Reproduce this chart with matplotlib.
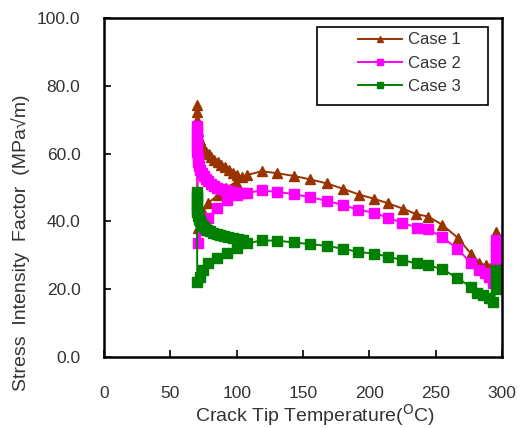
import matplotlib.pyplot as plt
from matplotlib.patches import Rectangle

plt.rcParams['font.family'] = ['Liberation Sans', 'DejaVu Sans']

# Case 1: temperature (C) and stress intensity factor (MPa sqrt(m))
case1_t = [295.5, 295.5, 295.5, 295.5, 295.5,
           291.0, 288.0, 283.0, 276.5, 266.5, 255.0, 244.5, 235.0, 225.0, 214.3,
           203.5, 192.2, 180.4, 168.0, 155.3, 143.2, 130.7, 119.0, 108.0,
           99.5, 92.0, 86.0, 78.5, 74.6, 70.5,
           70.0, 70.0, 70.0, 70.2, 70.6, 71.2, 72.0, 73.0, 74.2, 75.6, 77.2,
           79.0, 81.0, 83.2, 85.6, 88.2, 91.0, 94.0, 97.2, 100.6, 104.0]
case1_k = [37.0, 35.0, 33.0, 30.5, 28.5,
           26.2, 27.0, 27.8, 30.5, 35.2, 39.0, 41.4, 42.2, 43.8, 45.3,
           46.7, 47.9, 49.6, 51.2, 52.4, 53.4, 54.2, 54.8, 53.7,
           51.6, 49.9, 47.8, 45.4, 42.8, 38.0,
           74.3, 72.2, 70.0, 68.2, 66.6, 65.2, 64.0, 63.0, 62.1, 61.2, 60.5,
           59.8, 59.0, 58.2, 57.4, 56.7, 55.9, 55.1, 54.3, 53.6, 53.1]

# Case 2
case2_t = [295.5, 295.5, 295.5, 295.5, 295.5,
           293.5, 290.0, 287.3, 282.5, 276.5, 266.3, 255.1, 244.0, 235.7, 224.9,
           214.3, 203.5, 191.7, 180.4, 167.9, 155.3, 143.2, 130.7, 118.9, 107.6,
           100.0, 92.5, 85.0, 78.6, 73.6, 71.0,
           70.0, 70.0, 70.0, 70.0, 70.1, 70.2, 70.5, 71.0, 71.7, 72.6, 73.7,
           75.0, 76.6, 78.4, 80.5, 82.8, 85.3, 88.0, 91.0, 94.2, 97.6, 101.2, 104.8]
case2_k = [34.5, 32.5, 30.6, 28.5, 26.6,
           21.7, 23.5, 24.9, 25.7, 27.8, 31.9, 35.4, 37.7, 38.2, 39.6,
           41.0, 42.6, 43.4, 44.8, 46.1, 47.1, 48.1, 48.6, 49.2, 48.3,
           47.8, 46.3, 43.9, 40.9, 37.5, 33.5,
           68.0, 66.5, 65.0, 63.5, 62.0, 60.5, 59.0, 57.6, 56.3, 55.2, 54.2,
           53.3, 52.5, 51.8, 51.1, 50.5, 50.0, 49.6, 49.2, 48.9, 48.7, 48.5, 48.4]

# Case 3
case3_t = [295.5, 295.5, 295.5,
           293.5, 290.4, 286.0, 281.0, 276.5, 266.3, 255.1, 244.0, 235.7, 224.9,
           214.3, 203.5, 191.7, 180.4, 167.9, 155.3, 143.2, 130.7, 118.9, 107.6,
           100.0, 92.5, 85.0, 78.6, 74.9, 72.4, 70.3,
           70.0, 70.0, 70.0, 70.0, 70.1, 70.3, 70.7, 71.3, 72.1, 73.1, 74.4,
           76.0, 77.8, 79.9, 82.2, 84.8, 87.6, 90.6, 93.8, 97.2, 100.8, 104.5]
case3_k = [25.7, 22.9, 20.2,
           16.2, 17.4, 18.2, 18.8, 20.7, 23.3, 25.9, 27.1, 27.6, 28.6,
           29.6, 30.5, 31.0, 31.9, 32.8, 33.3, 33.8, 34.3, 34.4, 33.5,
           32.1, 30.6, 29.1, 27.6, 25.7, 23.7, 22.2,
           48.8, 47.5, 46.2, 45.0, 43.8, 42.7, 41.7, 40.8, 40.0, 39.3, 38.7,
           38.1, 37.6, 37.1, 36.7, 36.3, 35.9, 35.6, 35.3, 35.0, 34.7, 34.5]

x_ticks = [0, 50, 100, 150, 200, 250, 300]
y_ticks = [0, 20, 40, 60, 80, 100]

text_color = '#333333'

fig = plt.figure(figsize=(5.23, 4.28), dpi=100)
ax = fig.add_axes([104 / 523, 1 - 357 / 428, 398 / 523, 339 / 428])

ax.plot(case1_t, case1_k, color='#993300', marker='^', markersize=7.5, lw=1.4, label='Case 1')
ax.plot(case2_t, case2_k, color='#ff00ff', marker='s', markersize=7, lw=1.4, label='Case 2')
ax.plot(case3_t, case3_k, color='#008000', marker='s', markersize=7, lw=1.4, label='Case 3')

ax.set_xlim(0, 300)
ax.set_ylim(0, 100)
ax.set_xticks(x_ticks)
ax.set_yticks(y_ticks)
ax.set_yticklabels([f'{v:.1f}' for v in y_ticks])
ax.tick_params(direction='in', length=5, width=1.2, labelsize=12.5,
               labelcolor=text_color)
ax.tick_params(axis='y', pad=17)
ax.tick_params(axis='x', pad=21)
for sp in ax.spines.values():
    sp.set_linewidth(1.8)

# legend box drawn separately so it can be wider than its contents
leg = ax.legend(loc='upper left', bbox_to_anchor=((355 - 104) / 398, (357 - 29) / 339),
                frameon=False, fontsize=12, handlelength=2.6, handletextpad=0.4,
                labelspacing=0.5, borderpad=0.2, borderaxespad=0, markerscale=0.65)
for t in leg.get_texts():
    t.set_color(text_color)
ax.add_patch(Rectangle(((317 - 104) / 398, (357 - 105) / 339), 171 / 398, 78 / 339,
                       transform=ax.transAxes, fill=False, ec='black', lw=1.2,
                       zorder=5, clip_on=False))

fig.text(315 / 523, 1 - 415 / 428, r'Crack Tip Temperature($^{\mathrm{O}}$C)',
         ha='center', va='center', fontsize=14, color=text_color)
fig.text(21 / 523, 1 - 243 / 428, 'Stress  Intensity  Factor  (MPa\u221am)',
         ha='center', va='center', rotation=90, fontsize=14, color=text_color)

fig.savefig('out.png', dpi=100)
